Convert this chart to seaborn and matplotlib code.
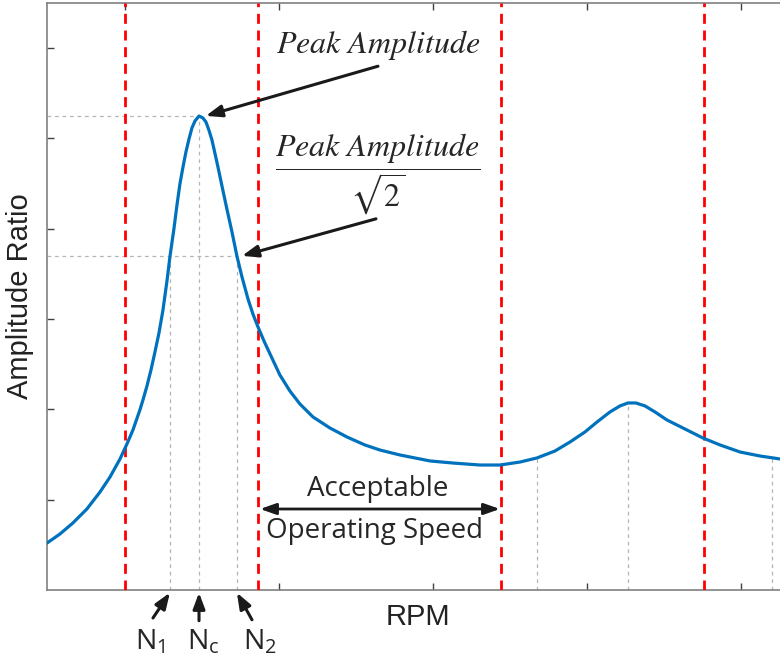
import matplotlib
matplotlib.use("Agg")
import matplotlib.pyplot as plt
import numpy as np
import pandas as pd
import seaborn as sns

# amplitude curve (x and y in tick units)
rpm = [0.494, 0.578, 0.662, 0.753, 0.838, 0.903, 0.968, 1.013, 1.052, 1.097,
       1.117, 1.143, 1.169, 1.195, 1.221, 1.247, 1.273, 1.292, 1.318, 1.338,
       1.357, 1.377, 1.396, 1.416, 1.435, 1.455, 1.481, 1.506, 1.526, 1.545,
       1.565, 1.584, 1.604, 1.630, 1.662, 1.695, 1.727, 1.760, 1.799, 1.831,
       1.864, 1.903, 1.942, 2.006, 2.071, 2.136, 2.221, 2.331, 2.442, 2.558,
       2.656, 2.786, 2.981, 3.130, 3.305, 3.435, 3.565, 3.675, 3.792, 3.890,
       3.987, 4.065, 4.149, 4.214, 4.266, 4.318, 4.377, 4.442, 4.519, 4.636,
       4.753, 4.864, 4.994, 5.123, 5.253]
amp = [0.520, 0.620, 0.742, 0.897, 1.085, 1.251, 1.451, 1.617, 1.772, 1.993,
       2.104, 2.259, 2.436, 2.636, 2.846, 3.101, 3.422, 3.688, 3.998, 4.264,
       4.496, 4.684, 4.850, 4.994, 5.116, 5.194, 5.249, 5.227, 5.183, 5.094,
       4.983, 4.839, 4.684, 4.474, 4.219, 3.965, 3.699, 3.466, 3.223, 3.056,
       2.913, 2.757, 2.614, 2.381, 2.204, 2.060, 1.916, 1.794, 1.694, 1.606,
       1.550, 1.495, 1.429, 1.406, 1.384, 1.384, 1.417, 1.462, 1.539, 1.639,
       1.750, 1.860, 1.971, 2.038, 2.071, 2.071, 2.038, 1.971, 1.883, 1.783,
       1.683, 1.606, 1.528, 1.484, 1.451]

red_x = [1.0, 1.864, 3.442, 4.760]
guide_x = [1.292, 1.481, 1.727, 3.675, 4.266, 5.201]
guide_top = [3.699, 5.249, 3.699, 1.462, 2.071, 1.462]
peak_amp = 5.249
half_amp = 3.699
n_labels = [r"$\mathregular{N_1}$", r"$\mathregular{N_c}$", r"$\mathregular{N_2}$"]

sns.set_theme(style="ticks")
plt.rcParams['font.family'] = ['Liberation Sans', 'DejaVu Sans']

fig = plt.figure(figsize=(7.8, 6.64), dpi=100)
ax = fig.add_axes([47 / 780, 74 / 664, 771 / 780, 587 / 664])

x0, x1 = 0.494, 5.5
ax.set_xlim(x0, x1)
ax.set_ylim(0, 6.5)

grey = '#b5b5b5'
# dotted guide lines
ax.plot([x0, guide_x[1]], [peak_amp, peak_amp], color=grey, lw=0.9, ls=(0, (3, 3)))
ax.plot([x0, guide_x[2]], [half_amp, half_amp], color=grey, lw=0.9, ls=(0, (3, 3)))
for gx, gt in zip(guide_x, guide_top):
    ax.plot([gx, gx], [0, gt], color=grey, lw=0.9, ls=(0, (3, 3)))

for rx in red_x:
    ax.axvline(rx, color='#ff0000', lw=2.0, ls=(0, (3.6, 2.4)), zorder=3)

df = pd.DataFrame({'RPM': rpm, 'Amplitude': amp})
sns.lineplot(data=df, x='RPM', y='Amplitude', color='#0072BD', lw=2.3, ax=ax,
             sort=False, zorder=4)

# axes styling
for side in ['left', 'bottom', 'top', 'right']:
    ax.spines[side].set_color('#808080')
    ax.spines[side].set_linewidth(1.2)
ax.set_xticks([1, 2, 3, 4, 5])
ax.set_yticks([1, 2, 3, 4, 5, 6])
ax.tick_params(direction='in', length=5, width=1, color='#404040',
               top=True, right=True, labelbottom=False, labelleft=False)
ax.set_xlabel('')
ax.set_ylabel('Amplitude Ratio', fontsize=21, color='#222222', labelpad=9)
ax.text(2.903, -0.30, 'RPM', fontsize=21, color='#222222', ha='center', va='center')

arrow = dict(arrowstyle='-|>,head_length=0.8,head_width=0.3', lw=2.2, color='k',
             shrinkA=0, shrinkB=0)

# peak annotation
ax.text(2.643, 6.035, r'$Peak\ Amplitude$', math_fontfamily='stix', fontsize=23,
        ha='center', va='center')
ax.annotate('', xy=(1.525, 5.25), xytext=(2.643, 5.80), arrowprops=arrow)

ax.text(2.643, 4.60, r'$\dfrac{Peak\ Amplitude}{\sqrt{2}}$', math_fontfamily='stix',
        fontsize=23, ha='center', va='center')
ax.annotate('', xy=(1.760, 3.70), xytext=(2.630, 4.11), arrowprops=arrow)

# acceptable operating speed
body_font = ['Open Sans', 'DejaVu Sans']
ax.text(2.643, 1.12, 'Acceptable', fontsize=20, family=body_font, ha='center', va='center')
ax.text(2.62, 0.65, 'Operating Speed', fontsize=20, family=body_font, ha='center', va='center')
ax.annotate('', xy=(1.877, 0.897), xytext=(3.435, 0.897),
            arrowprops=dict(arrowstyle='<|-|>,head_length=0.8,head_width=0.28', lw=2.0,
                            color='k', shrinkA=0, shrinkB=0))

# N labels under the axis
tails = [(1.182, -0.31), (1.481, -0.34), (1.825, -0.33)]
heads = [(1.292, -0.03), (1.481, -0.03), (1.727, -0.03)]
label_x = [1.162, 1.506, 1.877]
for lab, tx, tl, hd in zip(n_labels, label_x, tails, heads):
    ax.annotate('', xy=hd, xytext=tl, arrowprops=arrow, annotation_clip=False)
    ax.text(tx, -0.58, lab, fontsize=20.5, family=body_font, ha='center', va='center',
            clip_on=False)

fig.savefig('out.png', dpi=100)
plt.close(fig)
